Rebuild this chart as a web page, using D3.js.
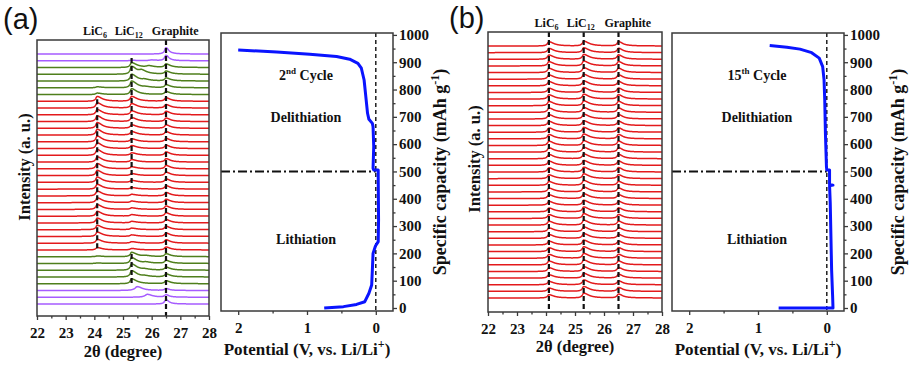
<!DOCTYPE html>
<html><head><meta charset="utf-8">
<script src="https://cdn.jsdelivr.net/npm/d3@7"></script>
<style>
body{margin:0;background:#fff}
</style>
</head><body><svg id="c" width="911" height="367" font-family="Liberation Serif" font-weight="bold" fill="#111"></svg>
<script>
// ---------------- DATA ----------------
// XRD panel (a): scans top -> bottom, phase code + peak intensities (a.u.)
const xrdA_phase = ["G","G","L12","L12","L12","L12","L12",
  "L6","L6","L6","L6","L6","L6","L6","L6","L6","L6","L6","L6","L6","L6","L6","L6","L6","L6","L6","L6","L6","L6","L6",
  "L12","L12","L12","L12","L12","G","G","G"];
const xrdA_LiC6 = [0,0, 0,0,0,1,1.5, 5,5.5,5.5,6,6,6,6,6,6,5.5,5.5,5.5,5.5,5,5,5,5,5,5,4.5,4.5,4,2.5, 0.8,0.5,0,0,0, 0,0,0];
const xrdA_LiC12 = [0,0.5, 5,8,7,7,6, 5,4.5,4,4,3.5,3.5,3,3,2.5,2.5,2,2,2,1.5,1.5,1.5,1.5,1.5,1.5,1.5,1.5,1.5,1.5, 4.5,6,6.5,6.5,5, 0,0,0];
const xrdA_Graphite = [6.5,5.5, 3.5,3,3,3,3, 3.5,3.5,3.5,3.5,3.5,3.5,3.5,3.5,3.5,3.5,3.5,3.5,3.5,3.5,3.5,3.5,3.5,3.5,3.5,3.5,3.5,3.5,3, 3,3,3,3,3, 2,2.5,4.5];
const xrdA_extraPos = [0,26.0, 25.9,25.65,25.75,25.8,0, 0,0,0,0,0,0,0,0,0,0,0,0,0,0,0,0,0,0,0,0,0,0,0, 25.8,25.8,25.75,25.75,0, 25.5,25.85,0];
const xrdA_extraH = [0,0.8, 1.5,3,1.2,0.6,0, 0,0,0,0,0,0,0,0,0,0,0,0,0,0,0,0,0,0,0,0,0,0,0, 0.8,1,0.8,0.8,0, 4,3,0];
// XRD panel (b): 15th cycle, all LiC6-bearing scans
const xrdB_LiC6 = [4.5,4.5,4.5,4.5,4.5,4.5,4.5,4.5,4.5,4.5,4.5,4.5,4.5,4.5,4.5,4.5,4.5,4.5,4.5,4.5,4,4,4,4,4,4,4,4,4,4,4,4,4,4,4,3.5,3.5,3.5,3.5];
const xrdB_LiC12 = [5,5,5,5,5,5,5,5,5,5,5,5,5,5,5,5,5,5,5,5,5,5,5,5,5,5,5,5,5,5,5,5,5,5,5,5,5,5,5];
const xrdB_Graphite = [4.5,4.5,4.5,4.5,4.5,4.5,4.5,4.5,4.5,4.5,4.5,4.5,4.5,4.5,4.5,4.5,4.5,4.5,4.5,4.5,4,4,4,4,4,4,4,4,4,4,4,4,4,4,4,4,4,4,4];
// reference peak positions (2θ, degree)
const peakNames = ["LiC6","LiC12","Graphite"];
const peakPos = [24.1, 25.3, 26.5];
const xTicks2theta = [22,23,24,25,26,27,28];
// dashed guide segments in panel (a): position and scan-index span
const dashA_pos = [26.5, 24.1, 25.3, 25.3];
const dashA_from = [-2.1, 6.7, 0.6, 29.6];
const dashA_to = [38.9, 29, 20, 34.3];
// Potential / capacity curves
const capA_V = [0.75,0.47,0.28,0.16,0.10,0.06,0.05,0.04,0.005,-0.035,-0.04,-0.035,-0.035, 0.03,0.04,0.03,0.04,0.05,0.10,0.12,0.145,0.17,0.21,0.26,0.38,0.57,0.96,1.44,2.0];
const capA_C = [0,5,13,23,54,84,139,200,227,243,322,481,505, 505,512,591,664,676,691,713,774,835,878,896,911,921,929,937,945];
const capB_V = [0.70,-0.09,-0.085,-0.07,-0.05,-0.04,-0.09,-0.04,-0.04, 0.0,0.005,0.02,0.03,0.04,0.06,0.11,0.22,0.39,0.58,0.83];
const capB_C = [0,0,40,139,384,448,450,452,505, 505,517,640,762,835,884,915,935,948,955,961];
const vTicks = [2,1,0];
const vMinor = [1.5,0.5];
const capTicks = [0,100,200,300,400,500,600,700,800,900,1000];
const capMinor = [50,150,250,350,450,550,650,750,850,950];

// ---------------- DRAW ----------------
const svg = d3.select("#c");
const AX = "#3a3a3a";
const color = d3.scaleOrdinal().domain(["G","L12","L6"]).range(["#a65cff","#4f7f1c","#e31a1c"]);

function prof(t, p, h, wl, wr){ if(!h) return 0; const w = t<p?wl:wr; const d=(t-p)/w; return h/(1+d*d); }
function styleText(sel, size){
  sel.attr("font-size",size).attr("font-family","Liberation Serif").attr("font-weight","bold").attr("fill","#111");
}

function xrdPanel(o){
  const g = svg.append("g");
  const x = d3.scaleLinear().domain([22,28]).range([o.x0,o.x1]);
  const n = o.c6.length, step = 7;
  const y = d3.scaleLinear().domain([0,(n-1)*step]).range([o.yb,o.yt]);
  const ts = d3.range(22,28.0001,0.01);
  const line = d3.line().x(d=>x(d[0])).y(d=>y(d[1]));
  for(let i=0;i<n;i++){
    const off = (n-1-i)*step;
    const ph = o.phase ? o.phase[i] : "L6";
    const ep = o.ep ? o.ep[i] : 0, eh = o.eh ? o.eh[i] : 0;
    const pts = ts.map(t=>[t, off
      + prof(t,peakPos[0],o.c6[i],0.06,0.2)
      + prof(t,peakPos[1],o.c12[i],0.06,0.21)
      + prof(t,peakPos[2],o.gr[i],0.06,ph==="G"?0.12:0.17)
      + prof(t,ep,eh,0.1,0.2)]);
    g.append("path").attr("d",line(pts)).attr("fill","none")
      .attr("stroke",color(ph)).attr("stroke-width",1.5);
  }
  // dashed guides
  o.dashes.forEach(dsh=>{
    g.append("line").attr("x1",x(dsh.p)).attr("x2",x(dsh.p))
      .attr("y1",Math.max(o.top, y((n-1-dsh.a)*step))).attr("y2",Math.min(o.bot, y((n-1-dsh.b)*step)))
      .attr("stroke","#111").attr("stroke-width",2.2).attr("stroke-dasharray","5,3");
  });
  // box
  g.append("rect").attr("x",o.x0).attr("y",o.top).attr("width",o.x1-o.x0).attr("height",o.bot-o.top)
    .attr("fill","none").attr("stroke",AX).attr("stroke-width",1.5);
  // axes
  const ax = g.append("g").attr("transform",`translate(0,${o.bot})`)
    .call(d3.axisBottom(x).tickValues(xTicks2theta).tickFormat(d3.format("d")).tickSize(4).tickPadding(7));
  const axm = g.append("g").attr("transform",`translate(0,${o.bot})`)
    .call(d3.axisBottom(x).tickValues(d3.range(22.5,28,1)).tickFormat("").tickSize(2.5));
  [ax,axm].forEach(a=>{a.select(".domain").remove(); a.selectAll("line").attr("stroke",AX).attr("stroke-width",1.3);});
  styleText(ax.selectAll("text"),15);
  // peak labels
  const lab = g.append("g");
  const lp = [24.02,25.2,26.82];
  const t1 = lab.append("text").attr("x",x(lp[0])).attr("y",o.ly).attr("text-anchor","middle").attr("font-size",12);
  t1.append("tspan").text("LiC"); t1.append("tspan").attr("font-size",8).attr("dy",3).text("6");
  const t2 = lab.append("text").attr("x",x(lp[1])).attr("y",o.ly).attr("text-anchor","middle").attr("font-size",12);
  t2.append("tspan").text("LiC"); t2.append("tspan").attr("font-size",8).attr("dy",3).text("12");
  lab.append("text").attr("x",x(lp[2])).attr("y",o.ly).attr("text-anchor","middle").attr("font-size",12).text("Graphite");
  // axis titles
  g.append("text").attr("x",(o.x0+o.x1)/2).attr("y",o.tb).attr("text-anchor","middle").attr("font-size",16.5).text("2θ (degree)");
  g.append("text").attr("transform",`translate(${o.ix},${o.iy}) rotate(-90)`).attr("text-anchor","middle").attr("font-size",16.5).text("Intensity (a. u.)");
}

function capPanel(o){
  const g = svg.append("g");
  const x = d3.scaleLinear().domain([2.25,-0.25]).range([o.x0,o.x1]);
  const y = d3.scaleLinear().domain([-11,1007]).range([311,33]);
  const top=y(1007), bot=y(-11);
  // guides
  g.append("line").attr("x1",x(0)).attr("x2",x(0)).attr("y1",top).attr("y2",bot)
    .attr("stroke","#111").attr("stroke-width",1.4).attr("stroke-dasharray","4,3");
  g.append("line").attr("x1",x(2.25)).attr("x2",x(0)).attr("y1",y(500)).attr("y2",y(500))
    .attr("stroke","#111").attr("stroke-width",2).attr("stroke-dasharray","9,3,2,3");
  // curve
  const pts = o.V.map((v,i)=>[v,o.C[i]]);
  g.append("path").attr("d",d3.line().x(d=>x(d[0])).y(d=>y(d[1]))(pts))
    .attr("fill","none").attr("stroke","#0a14ff").attr("stroke-width",3).attr("stroke-linejoin","round");
  g.append("rect").attr("x",o.x0).attr("y",top).attr("width",o.x1-o.x0).attr("height",bot-top)
    .attr("fill","none").attr("stroke",AX).attr("stroke-width",1.5);
  const axes = [];
  axes.push(g.append("g").attr("transform",`translate(0,${bot})`).call(d3.axisBottom(x).tickValues(vTicks).tickFormat(d3.format("d")).tickSize(4).tickPadding(7)));
  axes.push(g.append("g").attr("transform",`translate(0,${bot})`).call(d3.axisBottom(x).tickValues(vMinor).tickFormat("").tickSize(2.5)));
  axes.push(g.append("g").attr("transform",`translate(${o.x1},0)`).call(d3.axisRight(y).tickValues(capTicks).tickFormat(d3.format("d")).tickSize(4).tickPadding(2)));
  axes.push(g.append("g").attr("transform",`translate(${o.x1},0)`).call(d3.axisRight(y).tickValues(capMinor).tickFormat("").tickSize(2.5)));
  axes.forEach(a=>{a.select(".domain").remove(); a.selectAll("line").attr("stroke",AX).attr("stroke-width",1.3);
    styleText(a.selectAll("text"),15);});
  const cx = (o.x0+o.x1)/2 - 1;
  const c = g.append("text").attr("x",cx).attr("y",80).attr("text-anchor","middle").attr("font-size",14);
  c.append("tspan").text(o.cyc[0]); c.append("tspan").attr("font-size",9).attr("dy",-6).text(o.cyc[1]);
  c.append("tspan").attr("dy",6).text(" Cycle");
  g.append("text").attr("x",cx).attr("y",122).attr("text-anchor","middle").attr("font-size",14).text("Delithiation");
  g.append("text").attr("x",cx).attr("y",244).attr("text-anchor","middle").attr("font-size",14).text("Lithiation");
  const p = g.append("text").attr("x",(o.x0+o.x1)/2).attr("y",355).attr("text-anchor","middle").attr("font-size",17);
  p.append("tspan").text("Potential (V, vs. Li/Li"); p.append("tspan").attr("font-size",12).attr("dy",-7).text("+");
  p.append("tspan").attr("dy",7).text(")");
  const s = g.append("text").attr("transform",`translate(${o.sx},172) rotate(-90)`).attr("text-anchor","middle").attr("font-size",18);
  s.append("tspan").text("Specific capacity (mAh g"); s.append("tspan").attr("font-size",12).attr("dy",-7).text("-1");
  s.append("tspan").attr("dy",7).text(")");
}

xrdPanel({x0:37,x1:209,top:40,bot:316,yt:54,yb:304,phase:xrdA_phase,c6:xrdA_LiC6,c12:xrdA_LiC12,gr:xrdA_Graphite,
  ep:xrdA_extraPos,eh:xrdA_extraH,ly:35,tb:357,ix:30,iy:167,
  dashes:dashA_pos.map((p,i)=>({p,a:dashA_from[i],b:dashA_to[i]}))});
xrdPanel({x0:488,x1:662,top:32,bot:312,yt:46,yb:298,c6:xrdB_LiC6,c12:xrdB_LiC12,gr:xrdB_Graphite,
  ly:27,tb:352,ix:480,iy:159,
  dashes:peakPos.map(p=>({p,a:-3,b:41}))});
capPanel({x0:221,x1:393,V:capA_V,C:capA_C,cyc:["2","nd"],sx:446});
capPanel({x0:672,x1:844,V:capB_V,C:capB_C,cyc:["15","th"],sx:904});

svg.append("text").attr("x",3).attr("y",29).attr("font-family","Liberation Sans").attr("font-weight","normal").attr("font-size",29).text("(a)");
svg.append("text").attr("x",449).attr("y",28).attr("font-family","Liberation Sans").attr("font-weight","normal").attr("font-size",29).text("(b)");
</script></body></html>
